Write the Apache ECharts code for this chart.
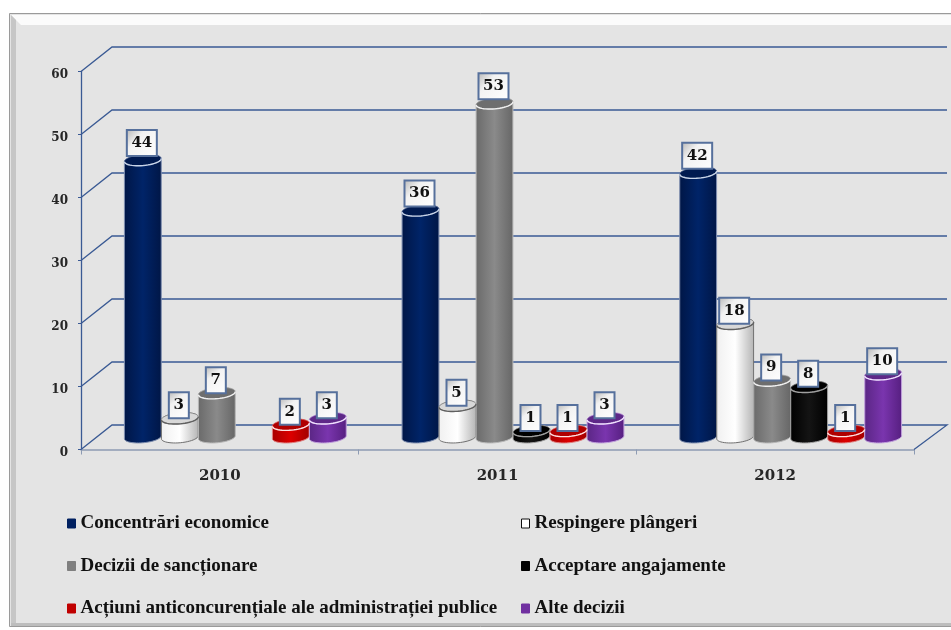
<!DOCTYPE html>
<html><head><meta charset="utf-8">
<style>html,body{margin:0;padding:0;background:#fff}#c{width:951px;height:630px}</style>
<script src="https://cdn.jsdelivr.net/npm/echarts@6/dist/echarts.min.js"></script>
</head><body><div id="c"></div>
<script>
const categories = ['2010', '2011', '2012'];
const yTicks = [0, 10, 20, 30, 40, 50, 60];
const concentrari = [44, 36, 42];
const respingere = [3, 5, 18];
const sanctionare = [7, 53, 9];
const acceptare = [null, 1, 8];
const actiuni = [2, 1, 1];
const alte = [3, 3, 10];

const DX = 31, DY = 24.5;
const serif = '"DejaVu Serif", serif';

const defs = [
  {name: 'Concentrări economice', values: concentrari, color: '#002060', stops: ['#001646', '#002468', '#001646'], top: '#001a50', rim: '#c8d4e8', line: '#7f8fb0'},
  {name: 'Respingere plângeri', values: respingere, color: '#ffffff', stops: ['#f0f0f0', '#ffffff', '#b4b4b4'], top: '#d8d8d8', rim: '#606060', line: '#707070'},
  {name: 'Decizii de sancționare', values: sanctionare, color: '#7f7f7f', stops: ['#6a6a6a', '#8a8a8a', '#666666'], top: '#6e6e6e', rim: '#f0f0f0', line: '#b8b8b8'},
  {name: 'Acceptare angajamente', values: acceptare, color: '#000000', stops: ['#000000', '#141414', '#000000'], top: '#000000', rim: '#a0a0a0', line: '#a0a0a0'},
  {name: 'Acțiuni anticoncurențiale ale administrației publice', values: actiuni, color: '#c00000', stops: ['#a80000', '#dc0000', '#a00000'], top: '#b00000', rim: '#ffe0e0', line: '#e08080'},
  {name: 'Alte decizii', values: alte, color: '#7030a0', stops: ['#5a2684', '#7a35ae', '#561f80'], top: '#5e2888', rim: '#f0e0ff', line: '#c0a0dc'}
];

function ellipsePts(cx, cy, rx, ry, tilt, from, to, n) {
  const out = [];
  for (let i = 0; i <= n; i++) {
    const t = from + (to - from) * i / n;
    const x = rx * Math.cos(t), y = ry * Math.sin(t);
    out.push([cx + x * Math.cos(tilt) - y * Math.sin(tilt), cy + x * Math.sin(tilt) + y * Math.cos(tilt)]);
  }
  return out;
}

function cylinderRenderer(idx, def) {
  return function (params, api) {
    const cat = api.value(0), val = api.value(1);
    const base = api.coord([cat, 0]), head = api.coord([cat, val]);
    const cx = base[0] + DX / 2 + (idx - 2.5) * 37;
    const by = base[1] - DY / 2, ty = head[1] - DY / 2;
    const rx = 18.5, ry = 5.5, tilt = -0.09;
    const body = ellipsePts(cx, by, rx, ry, tilt, 0, Math.PI, 24)
      .concat(ellipsePts(cx, ty, rx, ry, tilt, Math.PI, 2 * Math.PI, 24));
    const topPts = ellipsePts(cx, ty, rx, ry, tilt, 0, 2 * Math.PI, 48);
    const rimPts = ellipsePts(cx, ty, rx, ry, tilt, 0, Math.PI, 24);
    const text = String(val);
    const bw = text.length > 1 ? 30 : 20, bh = 26;
    const lx = cx - 1, ly = ty - (val > 30 ? 17 : 13);
    return {
      type: 'group',
      children: [
        {type: 'polygon', shape: {points: body}, z2: 1,
          style: {fill: {type: 'linear', x: 0, y: 0, x2: 1, y2: 0, colorStops: [
            {offset: 0, color: def.stops[0]}, {offset: 0.5, color: def.stops[1]}, {offset: 1, color: def.stops[2]}]},
            stroke: def.line, lineWidth: 1}},
        {type: 'polygon', shape: {points: topPts}, z2: 2, style: {fill: def.top, stroke: def.line, lineWidth: 0.5}},
        {type: 'polyline', shape: {points: rimPts}, z2: 3, style: {fill: null, stroke: def.rim, lineWidth: 1.4}},
        {type: 'rect', shape: {x: lx - bw / 2, y: ly - bh / 2, width: bw, height: bh}, z2: 20,
          style: {fill: {type: 'linear', x: 0, y: 0, x2: 1, y2: 1, colorStops: [
            {offset: 0, color: '#b4b4b4'}, {offset: 0.35, color: '#f2f2f2'}, {offset: 1, color: '#ffffff'}]},
            stroke: '#56709c', lineWidth: 2}},
        {type: 'text', z2: 21, style: {x: lx, y: ly, text: text, align: 'center', verticalAlign: 'middle',
          font: 'bold 15px ' + serif, fill: '#111'}}
      ]
    };
  };
}

function wallRenderer(params, api) {
  const v = api.value(0);
  const y = api.coord([0, v])[1];
  const x0 = params.coordSys.x, x1 = x0 + params.coordSys.width;
  const pts = [[x0, y], [x0 + DX, y - DY], [x1 + DX + 2, y - DY]];
  if (v === 0) pts.push([x1, y]);
  return {type: 'polyline', shape: {points: pts}, silent: true,
    style: {fill: null, stroke: '#3a5a94', lineWidth: 1.3}};
}

const series = [{
  type: 'custom', name: 'wall', data: yTicks.map(v => [v]), renderItem: wallRenderer,
  clip: false, silent: true, z: 1, encode: {y: 0}
}].concat(defs.map((d, i) => ({
  type: 'custom', name: d.name, coordinateSystem: 'cartesian2d', clip: false, z: 3, silent: true,
  itemStyle: {color: d.color},
  encode: {x: 0, y: 1},
  data: d.values.map((v, c) => [c, v]).filter(p => p[1] !== null),
  renderItem: cylinderRenderer(i, d)
})));

const legendItem = d => ({name: d.name, itemStyle: {color: d.color, borderColor: d.color === '#ffffff' ? '#111' : d.color, borderWidth: 1}});
const legendBase = {
  orient: 'vertical', icon: 'rect', itemWidth: 8, itemHeight: 9, itemGap: 23.5, top: 509,
  selectedMode: false, textStyle: {fontFamily: '"Liberation Serif", serif', fontWeight: 'bold', fontSize: 19, color: '#111'}
};

const chart = echarts.init(document.getElementById('c'), null, {renderer: 'canvas'});
chart.setOption({
  animation: false,
  backgroundColor: '#ffffff',
  graphic: {elements: [
    {type: 'rect', z: -1, shape: {x: 9.5, y: 13.5, width: 950, height: 613}, style: {fill: '#e4e4e4', stroke: '#9a9a9a', lineWidth: 1}},
    {type: 'polygon', z: -1, shape: {points: [[11, 15], [951, 15], [951, 25], [21, 25]]}, style: {fill: '#fbfbfb'}},
    {type: 'polygon', z: -1, shape: {points: [[11, 15], [16, 20], [16, 623], [11, 626]]}, style: {fill: '#c6c6c6'}},
    {type: 'rect', z: -1, shape: {x: 11, y: 623, width: 940, height: 3}, style: {fill: '#bdbdbd'}}
  ]},
  grid: {left: 81, top: 71.5, width: 833, height: 378, containLabel: false},
  xAxis: {
    type: 'category', data: categories,
    axisLine: {lineStyle: {color: '#8d9bb3', width: 1.5}},
    axisTick: {show: true, length: 5, lineStyle: {color: '#8d9bb3'}},
    axisLabel: {margin: 19, fontFamily: serif, fontWeight: 'bold', fontSize: 15, color: '#262626'},
    splitLine: {show: false}
  },
  yAxis: {
    type: 'value', min: 0, max: 60, interval: 10,
    axisLine: {show: true, lineStyle: {color: '#3a5a94', width: 1.3}},
    axisTick: {show: true, length: 3, lineStyle: {color: '#3a5a94'}},
    axisLabel: {margin: 13, verticalAlign: 'top', lineHeight: 6, fontFamily: serif, fontWeight: 'bold', fontSize: 12, color: '#262626'},
    splitLine: {show: false}
  },
  legend: [
    Object.assign({}, legendBase, {left: 62, data: [legendItem(defs[0]), legendItem(defs[2]), legendItem(defs[4])]}),
    Object.assign({}, legendBase, {left: 516, data: [legendItem(defs[1]), legendItem(defs[3]), legendItem(defs[5])]})
  ],
  series: series
});
</script></body></html>
